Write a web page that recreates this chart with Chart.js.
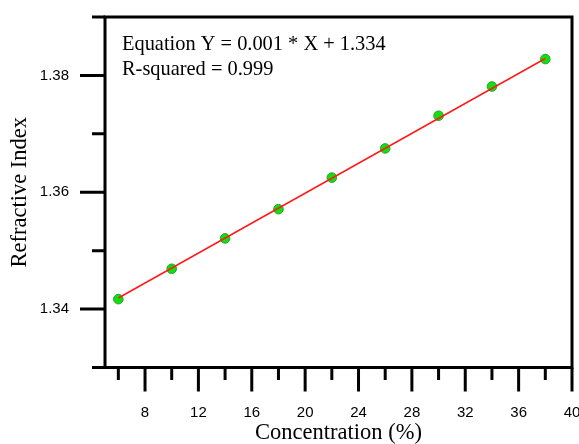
<!DOCTYPE html>
<html>
<head>
<meta charset="utf-8">
<script src="https://cdn.jsdelivr.net/npm/chart.js@4"></script>
<style>
  body { margin: 0; background: #fff; }
  canvas { display: block; }
</style>
</head>
<body>
<canvas id="myChart" width="579" height="444"></canvas>
<script>
// measured points
const concentration = [6, 10, 14, 18, 22, 26, 30, 34, 38];
const refractiveIndex = [1.3417, 1.3469, 1.3521, 1.3571, 1.3625, 1.3675, 1.3731, 1.3781, 1.3828];

// linear fit drawn between the end points
const fitX = [6, 38];
const fitY = [1.3419, 1.3829];

const equationLines = ['Equation Y = 0.001 * X + 1.334', 'R-squared = 0.999'];

const serif = '"Liberation Serif", "Times New Roman", serif';
const sans = '"Liberation Sans", Arial, sans-serif';

// fixed axis box sizes, no extra label padding around the plot
const fixSize = (prop, size) => (scale) => {
    scale[prop] = size;
    scale.paddingLeft = 0;
    scale.paddingRight = 0;
    scale.paddingTop = 0;
    scale.paddingBottom = 0;
};

// frame, outward ticks (major/minor) and the equation box
const framePlugin = {
    id: 'frame',
    afterDraw(chart) {
        const { ctx, chartArea: a, scales: { x, y } } = chart;
        ctx.save();
        ctx.strokeStyle = '#000';
        ctx.lineWidth = 3;
        ctx.lineCap = 'butt';
        ctx.strokeRect(a.left, a.top, a.right - a.left, a.bottom - a.top);

        ctx.beginPath();
        x.ticks.forEach((t) => {
            if (t.value % 2 !== 0) return;
            const px = x.getPixelForValue(t.value);
            const len = t.value % 4 === 0 ? 24 : 12.5;
            ctx.moveTo(px, a.bottom);
            ctx.lineTo(px, a.bottom + len);
        });
        y.ticks.forEach((t) => {
            const py = y.getPixelForValue(t.value);
            const len = Math.round(t.value * 100) % 2 === 0 ? 25 : 13;
            ctx.moveTo(a.left, py);
            ctx.lineTo(a.left - len, py);
        });
        ctx.stroke();

        ctx.fillStyle = '#000';
        ctx.font = '20.4px ' + serif;
        ctx.textBaseline = 'alphabetic';
        ctx.textAlign = 'left';
        equationLines.forEach((line, i) => {
            ctx.fillText(line, a.left + 17, a.top + 32.5 + i * 25.7);
        });
        ctx.restore();
    }
};

const ctx = document.getElementById('myChart').getContext('2d');

const myChart = new Chart(ctx, {
    type: 'scatter',
    data: {
        datasets: [{
            label: 'Linear fit',
            data: fitX.map((v, i) => ({ x: v, y: fitY[i] })),
            showLine: true,
            borderColor: '#ff1a1a',
            borderWidth: 1.5,
            pointRadius: 0,
        }, {
            label: 'Refractive index',
            data: concentration.map((v, i) => ({ x: v, y: refractiveIndex[i] })),
            backgroundColor: '#10e010',
            borderColor: '#2aa02a',
            borderWidth: 1,
            pointRadius: 4.8,
        }]
    },
    options: {
        responsive: false,
        animation: false,
        layout: {
            padding: { top: 17, right: 7, bottom: 0, left: 0 }
        },
        plugins: {
            legend: { display: false },
            tooltip: { enabled: false },
        },
        scales: {
            x: {
                type: 'linear',
                min: 5,
                max: 40,
                afterFit: fixSize('height', 76.5),
                grid: { display: false },
                border: { display: false },
                ticks: {
                    stepSize: 2,
                    padding: 28,
                    color: '#000',
                    font: { family: sans, size: 15 },
                    callback: (v) => (v % 4 === 0 ? v : ''),
                },
                title: {
                    display: true,
                    text: 'Concentration (%)',
                    color: '#000',
                    font: { family: serif, size: 22.5, lineHeight: 1 },
                    padding: { top: 0, bottom: 0 },
                }
            },
            y: {
                min: 1.33,
                max: 1.39,
                afterFit: fixSize('width', 105),
                grid: { display: false },
                border: { display: false },
                ticks: {
                    stepSize: 0.01,
                    padding: 28,
                    color: '#000',
                    font: { family: sans, size: 15 },
                    callback: (v) => (Math.round(v * 100) % 2 === 0 ? v.toFixed(2) : ''),
                },
                title: {
                    display: true,
                    text: 'Refractive Index',
                    color: '#000',
                    font: { family: serif, size: 22.5, lineHeight: 1 },
                    padding: { top: 9, bottom: 0 },
                }
            }
        }
    },
    plugins: [framePlugin]
});
</script>
</body>
</html>
